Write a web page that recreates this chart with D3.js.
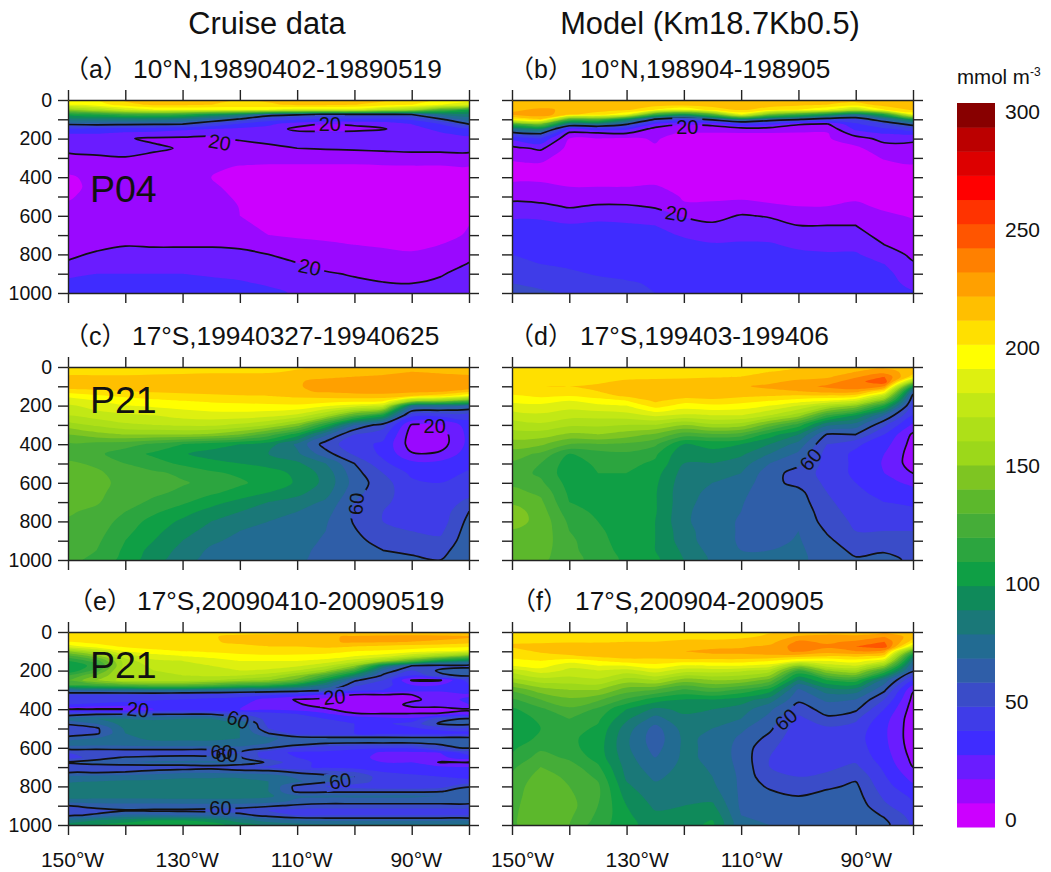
<!DOCTYPE html>
<html>
<head>
<meta charset="utf-8">
<script src="https://cdn.jsdelivr.net/npm/d3@7"></script>
<style>
  html, body { margin: 0; padding: 0; background: #fff; }
  text { font-family: "Liberation Sans", "Noto Sans CJK SC", sans-serif; fill: #111; }
</style>
</head>
<body>
<script>
const lons = [150,145,140,135,130,125,120,115,110,105,100,95,90,85,80];
const depths = [0,25,50,75,100,125,150,175,200,250,300,350,400,450,500,550,600,650,700,750,800,850,900,950,1000];
const depthsFine = [0,25,50,75,100,125,150,175,200,225,250,275,300,325,350,375,400,425,450,475,500,525,550,575,600,625,650,675,700,725,750,775,800,825,850,875,900,925,950,975,1000];

const lonTicks = [150,140,130,120,110,100,90,80];
const lonLabels = [150,130,110,90];
const depthTicks = [0,100,200,300,400,500,600,700,800,900,1000];
const depthLabels = [0,200,400,600,800,1000];
const colorTicks = [0,50,100,150,200,250,300];
const contourLevels = [20,60];

// one color per 10 mmol band, 0-10 first
const bandColors = ['#cc00ff','#9a08ff','#6a1cff','#3f2cff','#3f3ce8','#3a4cc8','#2f5ea8','#226b92','#1a7878','#0f8a5a',
  '#0f9f45','#2ca53f','#45ad38','#5cb82c','#7ec522','#9cd81a','#aee018','#c2e815','#def010','#ffff00',
  '#ffe000','#ffbf00','#ffa000','#ff8000','#ff5500','#ff3300','#ff0000','#dd0000','#bb0000','#880000'];

// rows by depth
const panelA = [
  [195,200,212,215,214,212,210,212,214,215,214,212,205,198,192],
  [190,195,205,212,212,210,208,208,212,212,210,205,200,190,185],
  [150,165,180,190,190,190,190,190,185,185,185,170,160,130,110],
  [105,112,120,120,115,100,90,66,62,58,58,58,60,80,85],
  [85,85,85,85,80,70,58,46,42,38,38,38,42,58,75],
  [62,64,63,62,60,48,38,32,24,20,22,24,30,40,60],
  [36,36,34,34,32,30,28,26,17,16,16,19,27,32,38],
  [30,30,28,27,25,21,25,25,24,24,25,26,27,29,32],
  [28,28,21,18,18,19,21,24,25,26,27,27,27,27,28],
  [24,25,24,22,19,18,16,17,20,21,22,23,24,24,25],
  [16,18,19.5,17,15,13,12,12,12,12,12,13,14,14,14],
  [12,14,14,13,12,11,9.5,9,9,9,9,9,9,9,9.5],
  [9,12,14,14,12,10,8,7,7,7,6,6,6,7,8],
  [8,12,15,15,13,11,8,6,5,5,5,5,5,6,7],
  [9,13,15,15,14,12,9,6,5,5,5,5,5,6,7],
  [11,14,15,15,14,13,9.8,7,5,5,5,5,5,6,8],
  [13,15,15,15,15,13,10,8,6,5,5,5,5,6,9],
  [14,16,16,16,15,14,11,9,7,6,6,5,5,7,10],
  [15,17,17,17,16,15,12,10,8,7,6,6,6,7,11],
  [16,18,19.5,19,19,19,18.5,16,14,12,10,9.5,9,10,13],
  [18.5,21,23,23,23,23,22,20,17,14,12,11,10.5,13,17],
  [21,25,27,27,27,26,25,24,20.5,17,15,13,12,15,20.5],
  [26,30,30,30,30,29,28,26,23,21,19,17,16,19,24],
  [34,34,33,33,33,32,31,29,26,24,22,20.5,20,22,26],
  [40,38,36,36,36,35,34,32,29,27,25,24,23,25,29]
];
const panelB = [
  [214,214,214,214,214,214,214,214,214,214,214,214,214,214,214],
  [215,215,215,215,214,214,213,214,215,214,212,210,205,214,215],
  [218,222,218,215,212,200,190,205,212,205,200,190,170,200,212],
  [222,226,212,205,190,120,100,130,190,140,120,100,80,110,190],
  [200,210,130,130,95,58,48,65,85,70,62,50,50,70,100],
  [120,140,75,80,62,28,21,23,38,33,21,19,38,50,65],
  [80,90,30,35,32,16,13,14,15,15,13,13,32,38,45],
  [52,60,16,17,19,12,9,9,9,9,9,9,24,30,32],
  [32,40,10,10,9,10.5,8,8,8,8,8,9,16,23,23],
  [17,22,7,7,7,9.5,7,7,7,7,7,7,8,16,15],
  [11,12,6,6,6,8,6,6,6,6,6,6,7,10.5,12],
  [8,8,7,6,6,6,6,6,6,6,6,6,6,8,9],
  [9,9,7,7,7,6,5,5,5,5,5,5,5,6,7],
  [11,11,10,10,10,11,6,6,6,6,6,6,6,7,7],
  [17,16,13,15,14,15,9,9,9,8,8,8,9,8,8],
  [23,22,19,21,21,19,11,11,12,11,10,10,11,9,8.5],
  [28,28,25,27,27,24,19,16,21,19,15,16,16,11,9.5],
  [33,33,31,32,31,30,25,22,25,24,20,20,20,13,11],
  [36,36,35,35,34,33,29,26,28,27,24,24,24,16,13],
  [38,38,37,37,36,36,33,31,31,31,28,27,27,20,15],
  [40,39,38.5,38,38,37.5,35,34,34,34,32,31,31,25,18],
  [42,40,39,39,38.5,38,36,36,36,35,34,33,33,30,21],
  [45,43,41,39.5,39,38.5,37,37,37,36,35,35,34.5,33,24],
  [50,47,44,41.5,40.5,39.5,38,38,38,37,36,36,35,34,27],
  [54,52,48,45,42,40,39,39,39,38,37,37,36,35,31]
];
const panelE = [
  [203,203,204,204,205,205,206,206,207,208,209,209,210,210,210],
  [205,206,207,207,208,209,213,215,216,218,222,224,225,224,222],
  [200,204,206,207,208,209,212,216,216,218,222,222,220,218,214],
  [185,195,202,204,205,206,208,210,210,212,210,208,206,204,202],
  [150,170,190,197,200,202,204,205,204,204,200,198,195,190,185],
  [125,145,175,185,190,193,197,198,198,196,190,185,170,155,135],
  [110,125,165,178,180,185,190,190,190,186,175,155,130,100,85],
  [100,115,165,172,175,180,185,185,182,172,150,90,60,55,55],
  [100,125,168,170,172,175,180,178,170,155,120,68,50,62,66],
  [120,140,165,168,170,172,170,165,150,125,90,58,40,58,62],
  [130,150,165,165,165,160,155,150,135,100,62,50,19,19,45],
  [120,125,130,135,135,130,120,115,100,80,52,45,30,30,40],
  [72,75,78,80,80,78,75,72,70,64,45,40,35,35,38],
  [50,50,50,50,48,46,44,42,36,28,20,20,20,21,28],
  [46,46,44,42,40,38,36,26,19,17,14,13,17,26,32],
  [40,38,36,32,36,34,32,24,21,16,11,11,24,26,30],
  [19,19,19,30,34,32,30,28,26,21,15,13,16,16,19],
  [52,58,59,59,59,59,50,45,40,32,21,20.5,20.5,21,22],
  [75,80,80,78,80,80,65,45,42,40,38,34,32,56,62],
  [62,70,85,85,85,85,80,46,42,42,40,38,44,62,63],
  [50,58,82,85,85,85,80,50,42,42,40,38,38,44,48],
  [52,58,80,85,85,85,80,60,45,42,40,36,35,34,34],
  [65,70,78,82,82,82,80,72,66,64,64,64,64,64,64],
  [75,76,75,78,78,78,75,70,68,61,60,60,60,61,64],
  [65,65,66,66,66,66,68,61,50,45,42,42,42,58,61],
  [50,50,50,50,50,50,60,44,38,38,36,28,28,30,45],
  [45,55,61,63,65,65,61,45,40,38,36,25,25,28,35],
  [61,65,70,72,72,72,70,58,42,38,34,30,30,19,19],
  [55,54,52,52,52,55,50,48,42,38,36,34,34,32,30],
  [58,58,60,64,68,68,66,64,58,55,50,40,38,36,34],
  [72,74,74,76,78,78,78,76,68,64,60,44,42,40,38],
  [78,80,82,82,84,85,85,80,72,62,55,46,44,42,42],
  [85,85,85,85,86,86,86,80,56,50,46,44,44,46,59],
  [85,85,85,85,86,86,86,80,57,57,57,57,57,59,66],
  [85,85,85,85,85,85,85,82,72,72,72,72,72,70,70],
  [75,75,75,75,76,76,76,75,68,66,66,66,66,66,66],
  [60,65,66,66,66,66,66,62,58,56,56,56,56,56,56],
  [52,56,59,58,58,57,54,50,46,46,46,46,46,46,46],
  [58,62,72,72,70,68,64,56,50,50,50,50,50,50,50],
  [80,90,95,100,100,96,85,75,70,68,68,68,68,68,68],
  [95,100,105,108,108,105,95,88,84,82,82,82,82,82,82]
];

// columns by longitude
const panelC = d3.transpose([
  [205,205,212,215,215,205,192,185,178,170,155,140,128,125,132,135,135,135,133,131,129,127,125,124,122],
  [205,205,212,215,215,208,198,190,185,175,162,146,126,122,128,132,133,132,131,128,126,124,122,120,118],
  [205,205,212,216,216,210,202,195,190,178,168,150,124,115,120,125,127,126,124,120,116,113,110,108,106],
  [205,206,213,217,216,212,204,198,192,180,170,150,118,108,114,122,125,122,118,112,106,103,100,96,94],
  [205,207,214,218,217,213,206,200,194,184,172,150,110,101,108,118,121,118,112,104,98,94,90,87,84],
  [205,208,215,218,218,214,208,202,196,186,172,148,105,96,103,112,117,112,104,96,90,86,82,78,76],
  [206,208,215,219,218,215,209,203,197,186,168,140,100,93,100,108,112,106,97,90,84,80,77,75,74],
  [207,208,216,218,218,216,210,204,198,184,160,125,95,90,97,104,105,100,90,84,80,76,74,73,72],
  [208,212,217,219,219,218,212,206,198,178,145,105,78,82,92,98,99,93,86,80,76,74,73,72,71],
  [212,214,218,223,224,222,214,205,192,160,110,72,55,64,80,86,87,84,78,74,71,70,69,68,68],
  [214,215,220,226,228,224,216,204,186,130,70,50,44,48,60,64,66,63,60,58,59,61,63,64,66],
  [216,216,222,228,229,225,216,202,178,105,55,44,38,38,42,50,54,54,52,50,50,52,56,60,63],
  [218,220,225,229,229,224,210,160,80,44,19,15,15,21,33,38,42,44,45,46,47,50,54,58,62],
  [216,218,224,229,229,222,205,150,75,44,19,15,15,22,33,37,40,42,43,44,45,48,52,57,60],
  [214,216,222,228,228,215,190,130,70,45,35,33,33,35,38,41,43,46,53,60,63,65,66,66,66]
]);
const panelD = d3.transpose([
  [203,205,205,207,207,205,198,192,187,175,165,155,145,135,128,125,128,133,138,145,144,139,138,137,136],
  [203,205,205,208,210,207,202,194,188,178,168,155,142,128,120,118,122,128,132,135,137,137,136,135,133],
  [204,205,206,208,210,208,200,190,184,174,162,148,130,110,105,104,106,108,110,114,118,120,122,122,122],
  [204,205,207,209,211,210,205,195,188,174,162,150,130,115,112,110,104,104,106,108,110,112,114,116,118],
  [204,206,208,211,214,216,212,200,190,176,160,145,128,118,113,110,108,106,105,104,104,104,104,105,107],
  [204,206,208,212,215,218,216,212,205,182,160,138,122,112,108,104,102,101,101,101,100,100,100,100,102],
  [205,206,208,213,216,219,215,204,196,178,150,125,100,92,90,86,84,83,83,82,82,84,85,88,90],
  [205,206,209,214,218,220,215,207,198,180,158,128,102,98,90,84,80,78,76,75,74,74,74,76,78],
  [205,207,210,215,219,218,212,204,196,180,155,125,100,92,85,80,76,73,71,70,69,69,69,70,72],
  [208,210,213,218,222,218,210,200,190,170,135,105,90,80,70,64,63,62,62,65,66,66,67,70,72],
  [210,212,216,222,226,220,208,195,180,155,115,90,76,68,62,56,57,63,65,67,68,70,71,72,72],
  [212,214,218,225,232,225,208,190,165,120,82,59,50,46,46,46,48,50,52,54,56,59,62,64,66],
  [216,220,228,236,238,225,205,180,150,100,75,60,42,38,38,38,40,42,44,46,48,50,54,58,61],
  [218,225,240,248,230,200,170,140,110,70,52,40,34,30,29,30,33,37,40,43,46,50,54,59,63],
  [215,215,205,160,105,70,56,50,46,40,28,18,16,15,15,20,28,33,38,42,46,50,54,56,58]
]);
const panelF = d3.transpose([
  [205,206,208,212,205,202,198,190,175,155,132,118,108,104,103,104,108,112,118,122,125,126,127,128,128],
  [205,206,208,214,212,205,200,195,185,165,145,130,118,112,110,112,118,124,130,134,136,137,138,138,138],
  [205,206,209,214,216,208,195,182,178,165,150,138,128,120,115,112,113,118,125,128,130,132,134,132,130],
  [205,206,209,214,218,212,200,190,180,168,150,132,118,112,108,106,105,106,112,118,122,122,120,118,114],
  [205,206,210,215,218,215,205,190,176,155,135,118,100,92,85,82,82,84,86,88,92,96,100,102,104],
  [206,206,210,216,219,215,205,197,185,160,130,105,88,76,66,64,66,70,74,78,82,85,88,92,94],
  [206,207,212,216,220,218,205,188,175,145,118,100,92,88,84,82,82,82,83,84,85,88,90,95,96],
  [206,207,212,218,222,218,205,190,175,150,125,100,90,84,80,78,78,78,79,80,82,86,92,98,102],
  [206,208,214,219,222,218,205,190,172,148,118,95,85,80,72,68,66,66,67,68,68,68,68,70,72],
  [209,212,216,222,225,218,200,185,165,135,105,85,72,66,62,57,52,50,50,52,58,64,67,68,70],
  [212,222,232,235,232,215,190,150,120,88,68,62,55,47,44,42,43,46,48,50,54,60,63,65,66],
  [214,225,228,232,226,210,190,175,150,110,85,72,64,58,48,44,43,45,48,52,58,64,66,66,66],
  [216,222,232,240,230,212,195,180,160,115,85,70,62,52,46,44,45,47,52,58,62,64,66,66,66],
  [220,230,240,246,225,205,180,150,120,75,62,50,40,34,32,32,33,35,38,41,44,48,52,59,63],
  [218,215,205,180,130,95,78,68,62,40,21,17,15,14,14,14,15,17,20,26,32,38,42,46,48]
]);

// contour labels: level, lon, depth, rotation
const labelsA = [['20',104.3,124,0],['20',123.5,218,10],['20',107.8,865,12]];
const labelsB = [['20',119.4,137,0],['20',121.3,588,10]];
const labelsC = [['20',86,303,0],['60',99.7,709,-85]];
const labelsD = [['60',97.9,479,-50]];
const labelsE = [['20',137.8,401,5],['60',120.3,453,20],['20',103.5,336,-5],['60',123.2,620,0],['60',122.3,637,0],['60',102.5,771,-10],['60',123.4,912,0]];
const labelsF = [['60',102.2,453,-40]];

const width = 1051;
const height = 872;
const plotW = 401;
const plotH = 193;

const panels = [
  {id:'a', left:68,  top:100, grid:panelA, rows:depths, labels:labelsA, tag:'（a）', title:'10°N,19890402-19890519', tagDx:-4, textDx:65, depthAxis:true, station:'P04', stationY:202},
  {id:'b', left:512, top:100, grid:panelB, rows:depths, labels:labelsB, tag:'（b）', title:'10°N,198904-198905', tagDx:-3, textDx:68},
  {id:'c', left:68,  top:367, grid:panelC, rows:depths, labels:labelsC, tag:'（c）', title:'17°S,19940327-19940625', tagDx:-4, textDx:64, depthAxis:true, station:'P21', stationY:413},
  {id:'d', left:512, top:367, grid:panelD, rows:depths, labels:labelsD, tag:'（d）', title:'17°S,199403-199406', tagDx:-3, textDx:68},
  {id:'e', left:68,  top:632, grid:panelE, rows:depthsFine, labels:labelsE, tag:'（e）', title:'17°S,20090410-20090519', tagDx:0, textDx:69, depthAxis:true, lonAxis:true, lonDx:4, station:'P21', stationY:678},
  {id:'f', left:512, top:632, grid:panelF, rows:depths, labels:labelsF, tag:'（f）', title:'17°S,200904-200905', tagDx:-1, textDx:63, lonAxis:true, lonDx:10}
];

const svg = d3.select('body').append('svg')
  .attr('width', width)
  .attr('height', height)
  .style('display', 'block');
const defs = svg.append('defs');

const bandLevels = d3.range(10, 300, 10);
const ringLine = d3.line().curve(d3.curveCatmullRomClosed.alpha(0.5));

panels.forEach(p => {
  const x = d3.scaleLinear().domain([150, 80]).range([p.left, p.left + plotW]);
  const y = d3.scaleLinear().domain([0, 1000]).range([p.top, p.top + plotH]);

  const nx = lons.length;
  const ny = p.rows.length;
  const flat = p.grid.flat();

  // d3.contours puts values at cell centres, so map them back to lon / depth.
  // The outer half cell falls outside the frame and gets clipped.
  const colToLon = d3.scaleLinear().domain(d3.range(nx).map(i => i + 0.5)).range(lons);
  const rowToDepth = d3.scaleLinear().domain(d3.range(ny).map(i => i + 0.5)).range(p.rows);
  const path = c => c.coordinates.flatMap(poly => poly.map(ring =>
    ringLine(ring.slice(0, -1).map(([cx, cy]) => [x(colToLon(cx)), y(rowToDepth(cy))]))
  )).join('');

  defs.append('clipPath').attr('id', 'clip-' + p.id)
    .append('rect')
    .attr('x', p.left).attr('y', p.top).attr('width', plotW).attr('height', plotH);

  const g = svg.append('g');
  const plot = g.append('g').attr('clip-path', `url(#clip-${p.id})`);

  plot.append('rect')
    .attr('x', p.left).attr('y', p.top).attr('width', plotW).attr('height', plotH)
    .attr('fill', bandColors[0]);

  plot.selectAll('path.band')
    .data(d3.contours().size([nx, ny]).thresholds(bandLevels)(flat))
    .join('path')
    .attr('class', 'band')
    .attr('d', path)
    .attr('fill', d => bandColors[d.value / 10]);

  // gaps in the contour lines under their labels
  const mask = defs.append('mask').attr('id', 'gap-' + p.id)
    .attr('maskUnits', 'userSpaceOnUse')
    .attr('x', 0).attr('y', 0).attr('width', width).attr('height', height);
  mask.append('rect').attr('width', width).attr('height', height).attr('fill', '#fff');
  mask.selectAll('rect.gap')
    .data(p.labels)
    .join('rect')
    .attr('class', 'gap')
    .attr('x', -15).attr('y', -9).attr('width', 30).attr('height', 18)
    .attr('fill', '#000')
    .attr('transform', d => `translate(${x(d[1])},${y(d[2])}) rotate(${d[3]})`);

  plot.append('g')
    .attr('mask', `url(#gap-${p.id})`)
    .selectAll('path')
    .data(d3.contours().size([nx, ny]).thresholds(contourLevels)(flat))
    .join('path')
    .attr('d', path)
    .attr('fill', 'none')
    .attr('stroke', '#111')
    .attr('stroke-width', 1.7);

  g.selectAll('text.contour-label')
    .data(p.labels)
    .join('text')
    .attr('class', 'contour-label')
    .attr('transform', d => `translate(${x(d[1])},${y(d[2])}) rotate(${d[3]})`)
    .attr('text-anchor', 'middle')
    .attr('dy', '0.36em')
    .attr('font-size', 20)
    .text(d => d[0]);

  // frame and ticks on all four sides
  const lonFormat = d => lonLabels.includes(d) ? d + '°W' : '';
  const depthFormat = d => depthLabels.includes(d) ? d : '';
  const axes = [
    [d3.axisTop(x).tickFormat(''), 0, p.top],
    [d3.axisBottom(x).tickFormat(p.lonAxis ? lonFormat : ''), 0, p.top + plotH],
    [d3.axisLeft(y).tickFormat(p.depthAxis ? depthFormat : ''), p.left, 0],
    [d3.axisRight(y).tickFormat(''), p.left + plotW, 0]
  ];
  axes.forEach(([axis, tx, ty], i) => {
    axis.tickSizeOuter(0).tickSizeInner(10).tickPadding(i === 1 ? 17 : 6)
      .tickValues(i < 2 ? lonTicks : depthTicks);
    const a = g.append('g').attr('transform', `translate(${tx},${ty})`).call(axis);
    a.selectAll('path, line').attr('stroke', '#222').attr('stroke-width', 1.4);
    a.selectAll('text')
      .attr('font-size', i === 1 ? 21 : 19.5)
      .attr('font-family', null)
      .attr('fill', '#111');
    if (i === 1 && p.lonDx) a.selectAll('text').attr('dx', p.lonDx);
  });

  const titleY = p.top - 22;
  svg.append('text').attr('x', p.left + p.tagDx).attr('y', titleY).attr('font-size', 25).text(p.tag);
  svg.append('text').attr('x', p.left + p.textDx).attr('y', titleY).attr('font-size', 26.3).text(p.title);

  if (p.station) {
    svg.append('text').attr('x', p.left + 22).attr('y', p.stationY).attr('font-size', 37.5).attr('fill', '#111').text(p.station);
  }
});

svg.append('text').attr('x', 267).attr('y', 34).attr('text-anchor', 'middle').attr('font-size', 30.8).text('Cruise data');
svg.append('text').attr('x', 710).attr('y', 34).attr('text-anchor', 'middle').attr('font-size', 30.8).text('Model (Km18.7Kb0.5)');

// color bar
const barBand = d3.scaleBand().domain(d3.range(bandColors.length)).range([827, 103]);
svg.append('g').selectAll('rect')
  .data(bandColors)
  .join('rect')
  .attr('x', 957).attr('width', 38)
  .attr('y', (d, i) => barBand(i))
  .attr('height', barBand.bandwidth() + 0.5)
  .attr('fill', d => d);

const barLabel = d3.scaleLinear().domain([0, 300]).range([820, 112]);
svg.append('g').attr('transform', 'translate(998,0)')
  .call(d3.axisRight(barLabel).tickValues(colorTicks).tickSize(0).tickPadding(7))
  .call(a => a.select('.domain').remove())
  .selectAll('text').attr('font-size', 21).attr('font-family', null).attr('fill', '#111');

const unit = svg.append('text').attr('x', 957).attr('y', 84).attr('font-size', 20.5);
unit.append('tspan').text('mmol m');
unit.append('tspan').attr('font-size', 12).attr('dy', -8).text('-3');
</script>
</body>
</html>
